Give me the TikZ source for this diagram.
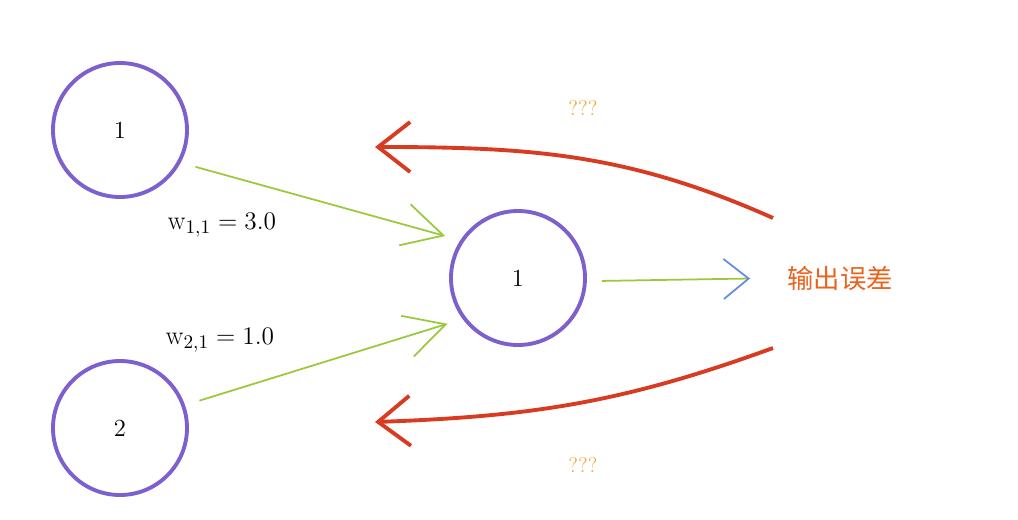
\documentclass[tikz,border=0pt]{standalone}
\usepackage{fontspec}
\usepackage{amsmath}
\usepackage{tikz}
\usetikzlibrary{positioning}
\usetikzlibrary{arrows.meta}
\newfontfamily\cjk{Noto Sans CJK SC}
\definecolor{neuronpurple}{RGB}{125,95,205}
\definecolor{weightgreen}{RGB}{155,200,60}
\definecolor{errred}{RGB}{215,60,35}
\definecolor{qorange}{RGB}{240,170,60}
\definecolor{errorange}{RGB}{235,100,30}
\definecolor{tipblue}{RGB}{100,140,220}
\tikzstyle{neuron} = [draw=neuronpurple, circle, line width=2.2pt, minimum size=2.68cm, outer sep=0.34cm, font=\fontsize{14}{16}\selectfont]
\tikzstyle{weight} = [->, draw=weightgreen, line width=1pt, >={Straight Barb[length=8mm,width=8.5mm]}]
\tikzstyle{backprop} = [->, draw=errred, line width=2.2pt, >={Straight Barb[length=6.4mm,width=10mm]}]
\tikzstyle{wlabel} = [font=\fontsize{15}{17}\selectfont]
\tikzstyle{qlabel} = [text=qorange, font=\fontsize{12}{14}\selectfont]

\begin{document}
\begin{tikzpicture}
    \useasboundingbox (0,0) rectangle (20.36,10.38);
    \node [neuron] at (2.40,7.78) (in1) {1};
    \node [neuron, below of=in1, node distance=5.96cm] (in2) {2};
    \node [neuron] at (10.36,4.82) (hid) {1};
    \node [right of=hid, node distance=6.44cm, text=errorange, font=\cjk\fontsize{15}{18}\selectfont] (err) {输出误差};

    \draw [weight] (in1.-26) -- (hid.150);
    \draw [weight] (in2.19) -- (hid.-147);
    \draw [weight, >={Straight Barb[length=5mm,width=8mm,color=tipblue]}, shorten >=0.62cm] (hid.-2) -- (err.west);

    \node [wlabel] at (4.44,5.88) (w11) {$\mathrm{w}_{1,1} = 3.0$};
    \node [wlabel] at (4.40,3.58) (w21) {$\mathrm{w}_{2,1} = 1.0$};

    % errors flowing back
    \coordinate (errtop) at (15.46,6.02);
    \coordinate (errbot) at (15.46,3.42);
    \coordinate (topend) at (7.50,7.44);
    \coordinate (botend) at (7.50,1.94);
    \draw [backprop] (errtop) to[out=156,in=0] (topend);
    \draw [backprop] (errbot) to[out=200,in=2] (botend);
    \node [qlabel] at (11.66,8.22) (q1) {???};
    \node [qlabel] at (11.66,1.08) (q2) {???};
\end{tikzpicture}
\end{document}
